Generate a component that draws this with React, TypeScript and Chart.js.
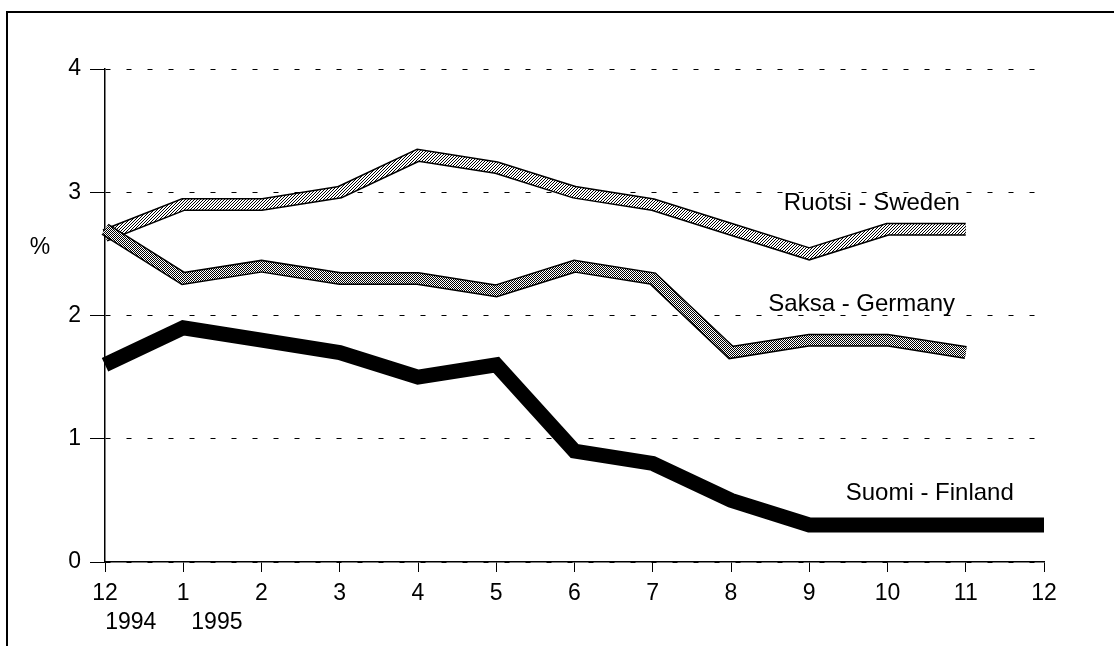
import React, { useEffect, useRef } from "react";
import { Chart, registerables } from "chart.js";

Chart.register(...registerables);

// ---- data ----
const months = ["12", "1", "2", "3", "4", "5", "6", "7", "8", "9", "10", "11", "12"];
const yearLabels = ["1994", "1995"];
const sweden = [2.65, 2.9, 2.9, 3.0, 3.3, 3.2, 3.0, 2.9, 2.7, 2.5, 2.7, 2.7, null];
const germany = [2.7, 2.3, 2.4, 2.3, 2.3, 2.2, 2.4, 2.3, 1.7, 1.8, 1.8, 1.7, null];
const finland = [1.6, 1.9, 1.8, 1.7, 1.5, 1.6, 0.9, 0.8, 0.5, 0.3, 0.3, 0.3, 0.3];
const seriesNames = ["Ruotsi - Sweden", "Saksa - Germany", "Suomi - Finland"];
const yAxisUnit = "%";

const FONT = "'Liberation Sans', Arial, Helvetica, sans-serif";

function makePattern(
  ctx: CanvasRenderingContext2D,
  size: number,
  fn: (x: number, y: number) => boolean
) {
  const c = document.createElement("canvas");
  c.width = size;
  c.height = size;
  const p = c.getContext("2d")!;
  p.fillStyle = "#fff";
  p.fillRect(0, 0, size, size);
  p.fillStyle = "#000";
  for (let y = 0; y < size; y++) {
    for (let x = 0; x < size; x++) {
      if (fn(x, y)) p.fillRect(x, y, 1, 1);
    }
  }
  return ctx.createPattern(c, "repeat")!;
}

const annotationPlugin = {
  id: "annotations",
  afterDraw(chart: any) {
    const ctx: CanvasRenderingContext2D = chart.ctx;
    const xs = chart.scales.x;
    const ys = chart.scales.y;
    const area = chart.chartArea;
    ctx.save();
    // frame
    ctx.strokeStyle = "#000";
    ctx.lineWidth = 2;
    ctx.beginPath();
    ctx.moveTo(7, chart.height);
    ctx.lineTo(7, 12);
    ctx.lineTo(chart.width, 12);
    ctx.stroke();

    ctx.fillStyle = "#000";
    // unit
    ctx.font = `23px ${FONT}`;
    ctx.textAlign = "center";
    ctx.textBaseline = "middle";
    ctx.fillText(yAxisUnit, area.left - 65, ys.getPixelForValue(2.55));

    // year labels under first ticks
    const yearOffsets = [0.33, 1.43];
    yearLabels.forEach((t, i) => {
      ctx.fillText(t, xs.getPixelForValue(yearOffsets[i]), xs.top + 61);
    });

    // series labels
    const labelX = [9.8, 9.67, 10.54];
    const labelY = [2.855, 2.036, 0.5];
    ctx.font = `24px ${FONT}`;
    ctx.textBaseline = "alphabetic";
    seriesNames.forEach((t, i) => {
      ctx.fillText(t, xs.getPixelForValue(labelX[i]), ys.getPixelForValue(labelY[i]));
    });
    ctx.restore();
  },
};

export default function App() {
  const canvasRef = useRef<HTMLCanvasElement | null>(null);

  useEffect(() => {
    document.body.style.margin = "0";
    const canvas = canvasRef.current!;
    const ctx = canvas.getContext("2d")!;
    const hatch = makePattern(ctx, 3, (x, y) => (x + y) % 3 === 0);
    const stipple = makePattern(ctx, 2, (x, y) => (x + y) % 2 === 0);

    const common = {
      pointRadius: 0,
      pointHoverRadius: 0,
      tension: 0,
      borderJoinStyle: "miter" as const,
      borderCapStyle: "butt" as const,
      fill: false,
      spanGaps: false,
    };

    const chart = new Chart(canvas, {
      type: "line",
      data: {
        labels: months,
        datasets: [
          { ...common, label: seriesNames[2], data: finland, borderColor: "#000", borderWidth: 15, order: 1 },
          { ...common, label: seriesNames[1], data: germany, borderColor: stipple as any, borderWidth: 10, order: 2 },
          { ...common, label: seriesNames[1] + " outline", data: germany, borderColor: "#000", borderWidth: 13, order: 3 },
          { ...common, label: seriesNames[0], data: sweden, borderColor: hatch as any, borderWidth: 10, order: 4 },
          { ...common, label: seriesNames[0] + " outline", data: sweden, borderColor: "#000", borderWidth: 13, order: 5 },
        ],
      },
      options: {
        responsive: false,
        animation: false,
        devicePixelRatio: 1,
        layout: { padding: { top: 69, right: 70, left: 0, bottom: 0 } },
        plugins: { legend: { display: false }, tooltip: { enabled: false } },
        events: [],
        scales: {
          x: {
            type: "category",
            offset: false,
            grid: {
              drawOnChartArea: false,
              drawTicks: true,
              tickLength: 10,
              color: "#000",
              tickColor: "#000",
              lineWidth: 1,
            },
            border: { display: true, color: "#000", width: 1.5 },
            ticks: {
              color: "#000",
              font: { family: FONT, size: 23 },
              padding: 8,
              maxRotation: 0,
              autoSkip: false,
            },
            afterFit: (s: any) => {
              s.height = 84;
            },
          },
          y: {
            min: 0,
            max: 4,
            ticks: {
              stepSize: 1,
              color: "#000",
              font: { family: FONT, size: 23 },
              padding: 9,
            },
            grid: {
              color: "#000",
              lineWidth: 1,
              tickLength: 15,
              drawTicks: true,
              tickColor: "#000",
            },
            border: { display: true, color: "#000", width: 1.5, dash: [5, 16] },
            afterFit: (s: any) => {
              s.width = 105;
            },
          },
        },
      },
      plugins: [annotationPlugin],
    });
    return () => chart.destroy();
  }, []);

  return (
    <div style={{ width: 1114, height: 646, background: "#fff" }}>
      <canvas ref={canvasRef} width={1114} height={646} style={{ display: "block" }} />
    </div>
  );
}
